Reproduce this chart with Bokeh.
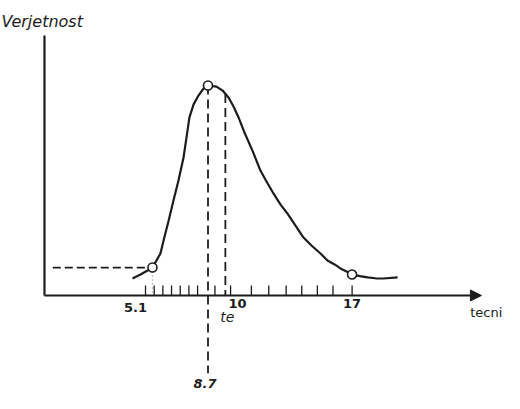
from bokeh.plotting import figure
from bokeh.models import Range1d, ColumnDataSource, Arrow, NormalHead
from bokeh.core.properties import value
from bokeh.embed import file_html
from bokeh.resources import INLINE

# ---- data ----
curve_x = [4.35, 4.81, 5.22, 5.50, 5.73, 5.96, 6.14, 6.42, 6.71, 7.00, 7.29, 7.46,
           7.63, 7.87, 8.15, 8.45, 8.70, 9.19, 9.54, 9.88, 10.17, 10.46, 10.80,
           11.26, 11.72, 12.07, 12.47, 12.88, 13.28, 13.74, 14.20, 14.66, 15.18,
           15.58, 15.99, 16.33, 16.68, 17.02, 17.45, 17.89, 18.35, 18.81, 19.62]
curve_y = [8.1, 10.0, 11.9, 13.3, 16.7, 20.0, 26.2, 35.2, 45.2, 54.8, 65.7, 75.2,
           84.8, 91.0, 95.2, 98.6, 100.0, 99.5, 97.6, 94.3, 90.0, 84.8, 77.6,
           69.0, 59.5, 54.3, 48.6, 43.3, 39.0, 33.3, 27.6, 23.8, 20.0,
           16.7, 14.8, 12.9, 11.4, 10.0, 9.2, 8.6, 8.2, 8.1, 8.6]

point_x = [5.5, 8.7, 17.0]          # optimistic, most likely, pessimistic
point_y = [13.3, 100.0, 10.0]

mode_x = 8.7
te_x = 9.7
te_y = 96.0

tick_x = [5.1, 5.6, 6.1, 6.6, 7.1, 7.6, 8.1, 9.1, 10.0, 11.2, 12.2, 13.2,
          14.1, 15.0, 15.9, 17.0]
tick_labels = ["5.1", "10", "17"]
tick_label_x = [5.1, 10.0, 17.0]

y_title = "Verjetnost"
x_title = "tecni"

# ---- figure ----
INK = "#1c1c1c"
p = figure(width=504, height=393, output_backend="svg", toolbar_location=None,
           x_range=Range1d(-3.253, 25.779), y_range=Range1d(-46.67, 140.48),
           x_axis_type=None, y_axis_type=None, min_border=0)
p.grid.visible = False
p.outline_line_color = None
p.background_fill_color = "white"
p.border_fill_color = "white"

axis_x0 = -0.72
# y axis
p.line([axis_x0, axis_x0], [0, 123.8], line_color=INK, line_width=2.2)
# x axis with arrow
p.add_layout(Arrow(x_start=axis_x0, y_start=0, x_end=24.45, y_end=0,
                   line_color=INK, line_width=2.2,
                   end=NormalHead(size=11, fill_color=INK, line_color=INK)))

# ticks
p.segment(x0=tick_x, y0=[0] * len(tick_x), x1=tick_x, y1=[4.8] * len(tick_x),
          line_color=INK, line_width=1.3)

# dashed guides
p.line([-0.24, point_x[0]], [point_y[0], point_y[0]], line_color=INK,
       line_width=1.8, line_dash="8 4")
p.line([point_x[0], point_x[0]], [point_y[0], 0], line_color="#888888",
       line_width=1.2, line_dash="1 3")
p.line([mode_x, mode_x], [point_y[1], -37.0], line_color=INK,
       line_width=1.8, line_dash="9 5")
p.line([te_x, te_x], [te_y, 0], line_color=INK,
       line_width=1.8, line_dash="9 5")

# curve
p.line(curve_x, curve_y, line_color=INK, line_width=2.2, line_join="round")
p.scatter(point_x, point_y, size=9, marker="circle", fill_color="white",
          line_color=INK, line_width=1.6)

# tick labels
lab = ColumnDataSource(dict(x=tick_label_x, y=[0] * 3, text=tick_labels,
                            dx=[-10, 7, 0], dy=[12, 8, 8]))
p.text(x="x", y="y", text="text", x_offset="dx", y_offset="dy", source=lab,
       text_font=value("DejaVu Sans"), text_font_style="bold",
       text_font_size="13px", text_align="center", text_baseline="middle",
       text_color=INK)

p.text(x=[te_x], y=[0], text=["te"], x_offset=2, y_offset=22,
       text_font=value("DejaVu Sans"), text_font_style="italic",
       text_font_size="14px", text_align="center", text_baseline="middle",
       text_color=INK)
p.text(x=[mode_x], y=[0], text=["8.7"], x_offset=-3, y_offset=88,
       text_font=value("DejaVu Sans"), text_font_style="bold italic",
       text_font_size="13px", text_align="center", text_baseline="middle",
       text_color=INK)

# axis titles
p.text(x=[-3.2], y=[130.5], text=[y_title], text_font=value("DejaVu Sans"),
       text_font_style="italic", text_font_size="16px", text_align="left",
       text_baseline="middle", text_color=INK)
p.text(x=[23.80], y=[-8.1], text=[x_title], text_font=value("DejaVu Sans"),
       text_font_size="13px", text_align="left", text_baseline="middle",
       text_color=INK)

open("out.html", "w").write(file_html(p, INLINE))
